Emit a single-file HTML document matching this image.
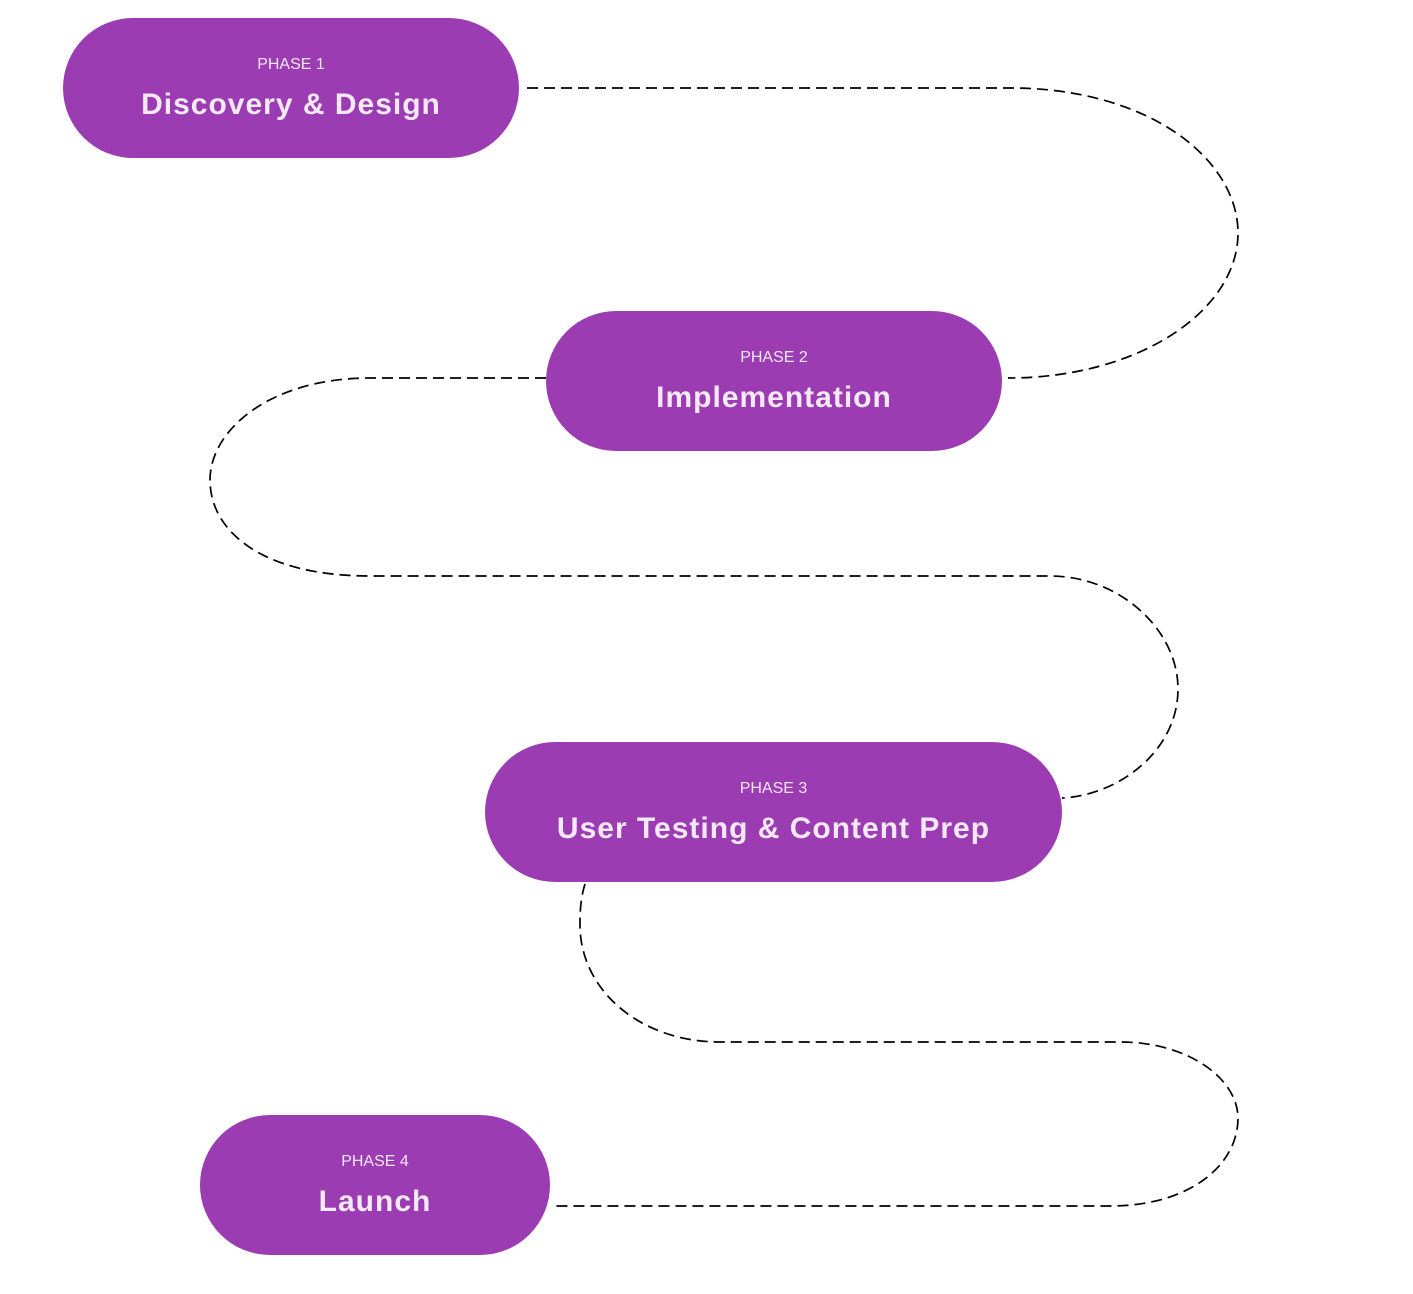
<!DOCTYPE html>
<html><head><meta charset="utf-8"><style>
html,body{margin:0;padding:0;background:#fff;width:1413px;height:1294px;overflow:hidden}
.p{position:absolute;background:#9b3cb2;border-radius:70px;height:140px;color:#f5e8f7;text-align:center;font-family:"Liberation Sans",sans-serif}
.s{position:absolute;left:0;right:0;top:37px;font-size:16px;line-height:20px}
.t{position:absolute;left:0;right:0;top:69px;font-size:30px;line-height:36px;font-weight:bold;letter-spacing:1px}
</style></head><body>
<svg width="1413" height="1294" style="position:absolute;left:0;top:0" fill="none" stroke="#000" stroke-width="1.7" stroke-dasharray="11 6">
<path d="M527 88 H1010 C1150 88 1238 160 1238 233 C1238 310 1140 378 1008 378"/>
<path d="M546 378 H370 C270 378 210 430 210 480 C210 530 260 576 370 576 H1050 C1120 576 1178 630 1178 689 C1178 750 1120 795 1062 798"/>
<path d="M585 884 C580 900 580 915 580 925 C580 990 640 1042 720 1042 H1120 C1190 1042 1238 1080 1238 1118 C1238 1165 1190 1206 1110 1206 H553"/>
</svg>
<div class="p" style="left:63px;top:18px;width:456px"><div class="s">PHASE 1</div><div class="t">Discovery &amp; Design</div></div>
<div class="p" style="left:546px;top:311px;width:456px"><div class="s">PHASE 2</div><div class="t">Implementation</div></div>
<div class="p" style="left:485px;top:742px;width:577px"><div class="s">PHASE 3</div><div class="t">User Testing &amp; Content Prep</div></div>
<div class="p" style="left:200px;top:1115px;width:350px"><div class="s">PHASE 4</div><div class="t">Launch</div></div>
</body></html>
